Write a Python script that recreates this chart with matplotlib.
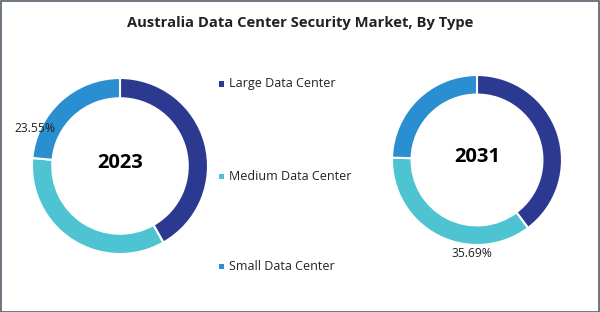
import matplotlib
matplotlib.use("Agg")
import matplotlib.pyplot as plt
from matplotlib.patches import Rectangle

title = "Australia Data Center Security Market, By Type"
categories = ["Large Data Center", "Medium Data Center", "Small Data Center"]
years = ["2023", "2031"]
share_2023 = [41.8, 34.65, 23.55]
share_2031 = [39.75, 35.69, 24.56]
colors = ["#2B3990", "#4EC3D1", "#2A8FD0"]

plt.rcParams['font.family'] = ['Open Sans', 'DejaVu Sans']

W, H = 600, 312
fig = plt.figure(figsize=(W / 100, H / 100), dpi=100)
fig.patch.set_facecolor("white")

def pie_axes(cx, cy, r):
    return fig.add_axes([(cx - r) / W, (H - cy - r) / H, 2 * r / W, 2 * r / H])

def donut(ax, vals, year):
    ax.pie(vals, colors=colors, startangle=90, counterclock=False, radius=1.0,
           wedgeprops=dict(width=0.23, edgecolor="white", linewidth=1.5))
    ax.set_xlim(-1, 1)
    ax.set_ylim(-1, 1)
    ax.set_aspect("equal")
    ax.axis("off")
    ax.text(0, 0.03, year, ha="center", va="center", fontsize=14.5,
            fontweight="bold", color="black")

ax1 = pie_axes(120, 166, 88)
donut(ax1, share_2023, years[0])
ax1.text(-0.97, 0.43, f"{share_2023[2]:.2f}%", ha="center", va="center",
         fontsize=8.7, color="#222222", clip_on=False)

ax2 = pie_axes(477, 160, 85)
donut(ax2, share_2031, years[1])
ax2.text(-0.06, -1.1, f"{share_2031[1]:.2f}%", ha="center", va="center",
         fontsize=8.7, color="#222222", clip_on=False)

# title
fig.text(0.5, 1 - 23 / H, title, ha="center", va="center", fontsize=10.6,
         fontweight="bold", color="#222222")

# legend
leg_y = [84, 176, 266]
for name, col, y in zip(categories, colors, leg_y):
    fig.patches.append(Rectangle((219 / W, 1 - (y + 2.5) / H), 5 / W, 5 / H,
                                 transform=fig.transFigure, facecolor=col,
                                 edgecolor="none"))
    fig.text(229 / W, 1 - y / H, name, ha="left", va="center", fontsize=9,
             color="#222222")

# frame
fig.patches.append(Rectangle((0.5 / W, 0.5 / H), 1 - 1.5 / W, 1 - 1.5 / H,
                             transform=fig.transFigure, facecolor="none",
                             edgecolor="#55606b", linewidth=1.2))

fig.savefig("out.png", dpi=100, facecolor="white")
